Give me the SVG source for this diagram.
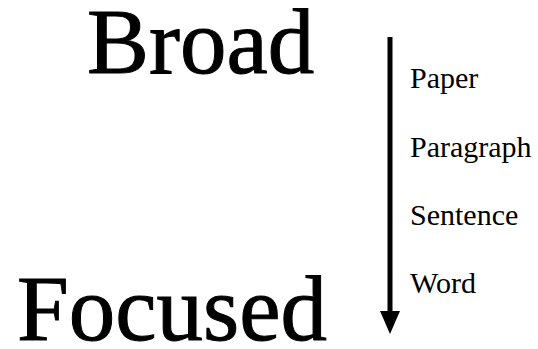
<svg xmlns="http://www.w3.org/2000/svg" width="538" height="349" viewBox="0 0 538 349">
<style>
.big{font-family:"Liberation Serif","Times New Roman",serif;font-size:93px;fill:#000;stroke:#000;stroke-width:1}
.lab{font-family:"Liberation Serif","Times New Roman",serif;font-size:30px;fill:#000}
</style>
<rect width="538" height="349" fill="#fff"/>
<g id="broad"><text class="big" x="87" y="73">Broad</text></g>
<g id="focused"><text class="big" x="17" y="340">Focused</text></g>
<g id="paper"><text class="lab" x="410" y="88">Paper</text></g>
<g id="paragraph"><text class="lab" x="410" y="157">Paragraph</text></g>
<g id="sentence"><text class="lab" x="410" y="225">Sentence</text></g>
<g id="word"><text class="lab" x="410" y="293">Word</text></g>
<g id="connectors">
<line x1="390" y1="37" x2="390" y2="313" stroke="#000" stroke-width="5"/>
<polygon points="380,311 400,311 390,334" fill="#000"/>
</g>
</svg>
